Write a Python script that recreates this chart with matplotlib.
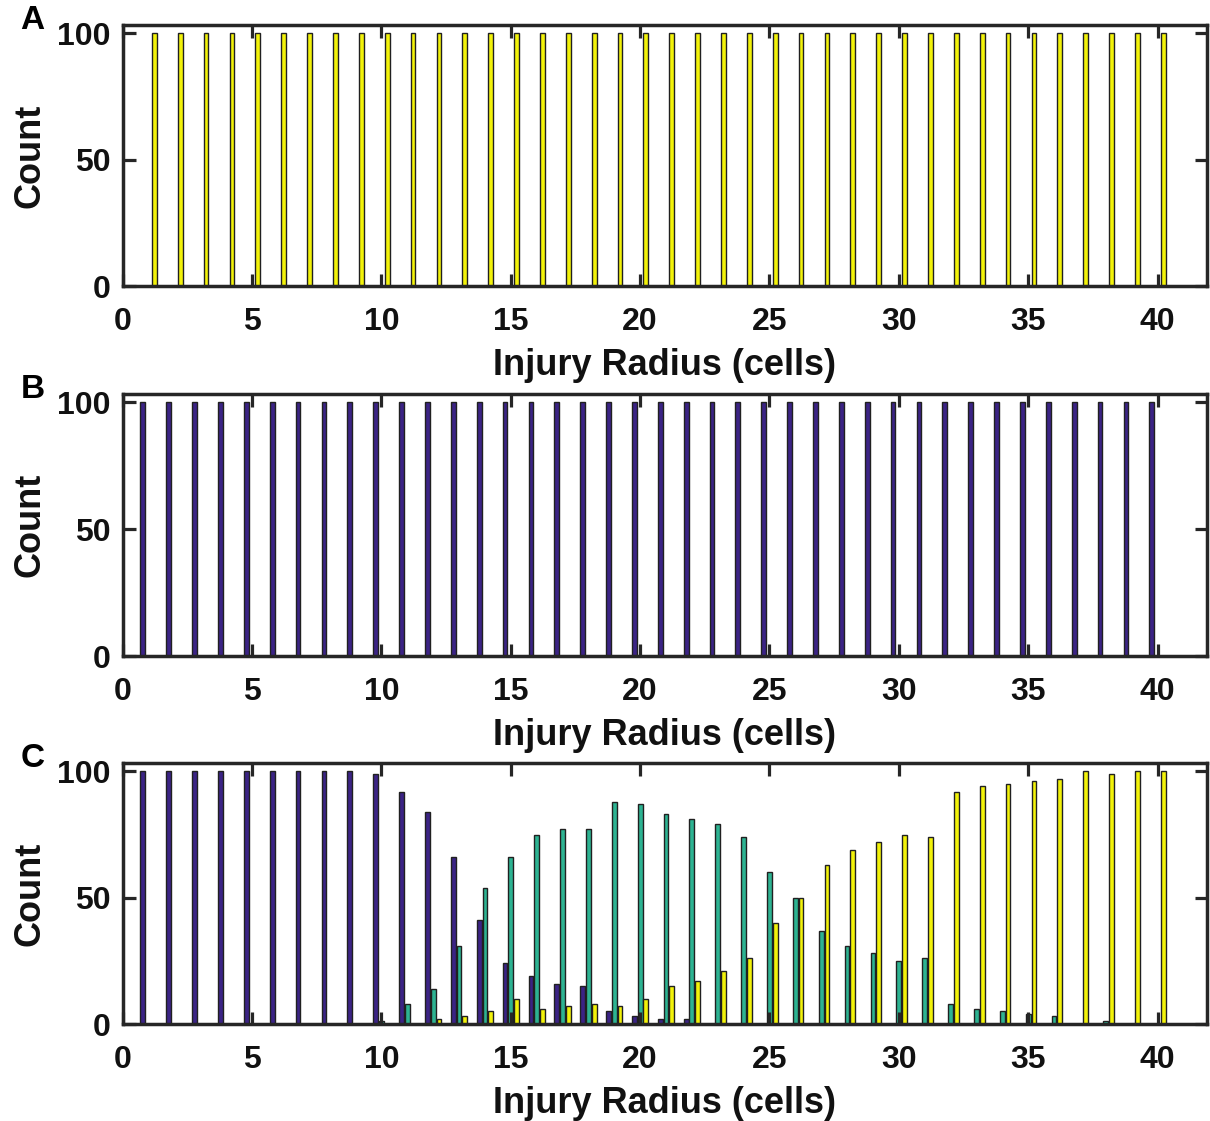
import numpy as np
import matplotlib
matplotlib.use("Agg")
import matplotlib.pyplot as plt

plt.rcParams['font.family'] = ['Liberation Sans', 'DejaVu Sans']
plt.rcParams['font.weight'] = 'bold'

radius = np.arange(1, 41)

# panel A: all yellow, panel B: all indigo
a_yellow = [100] * 40
b_indigo = [100] * 40

# panel C
c_indigo = [100, 100, 100, 100, 100, 100, 100, 100, 100, 99,
            92, 84, 66, 41, 24, 19, 16, 15, 5, 3,
            2, 2, 0, 0, 0, 0, 0, 0, 0, 0,
            0, 0, 0, 0, 0, 0, 0, 0, 0, 0]
c_teal = [0, 0, 0, 0, 0, 0, 0, 0, 0, 1,
          8, 14, 31, 54, 66, 75, 77, 77, 88, 87,
          83, 81, 79, 74, 60, 50, 37, 31, 28, 25,
          26, 8, 6, 5, 4, 3, 0, 1, 0, 0]
c_yellow = [0, 0, 0, 0, 0, 0, 0, 0, 0, 0,
            0, 2, 3, 5, 10, 6, 7, 8, 7, 10,
            15, 17, 21, 26, 40, 50, 63, 69, 72, 75,
            74, 92, 94, 95, 96, 97, 100, 99, 100, 100]

indigo = '#3b2385'
teal = '#2db392'
yellow = '#f2f20a'
dark = '#262626'

fig = plt.figure(figsize=(12.1, 11.21), dpi=100)
W, H = 1210, 1121
left, right = 122.7 / W, 1206.7 / W
panels = [(25, 286), (394, 656), (763, 1024)]

slot = 0.222
bw = 0.185


def style(ax, label):
    ax.set_xlim(0, 41.9)
    ax.set_ylim(0, 103.3)
    ax.set_xticks(range(0, 41, 5))
    ax.set_yticks([0, 50, 100])
    ax.tick_params(direction='in', length=9, width=2.3, color=dark,
                   labelsize=23, labelcolor='#111111', top=True, right=True)
    ax.tick_params(axis='x', pad=15)
    ax.tick_params(axis='y', pad=9)
    for s in ax.spines.values():
        s.set_linewidth(2.5)
        s.set_color(dark)
    for t in ax.get_xticklabels() + ax.get_yticklabels():
        t.set_fontweight('bold')
    ax.set_xlabel('Injury Radius (cells)', fontsize=26, fontweight='bold',
                  labelpad=8, color='#111111')
    ax.set_ylabel('Count', fontsize=26, fontweight='bold', color='#111111')
    ax.yaxis.set_label_coords(-0.069, 0.5)
    fig.text(0.027, ax.get_position().y1 + 0.004, label, fontsize=24,
             fontweight='bold', ha='center', va='center')


axes = []
for top, bot in panels:
    ax = fig.add_axes([left, 1 - bot / H, right - left, (bot - top) / H])
    axes.append(ax)

kw = dict(width=bw, edgecolor='#202020', linewidth=1.0, zorder=1)

axes[0].bar(radius + slot, a_yellow, color=yellow, **kw)
axes[1].bar(radius - slot, b_indigo, color=indigo, **kw)
axes[2].bar(radius - slot, c_indigo, color=indigo, **kw)
axes[2].bar(radius, c_teal, color=teal, **kw)
axes[2].bar(radius + slot, c_yellow, color=yellow, **kw)

for ax, lab in zip(axes, ['A', 'B', 'C']):
    style(ax, lab)

fig.savefig('out.png', dpi=100)
